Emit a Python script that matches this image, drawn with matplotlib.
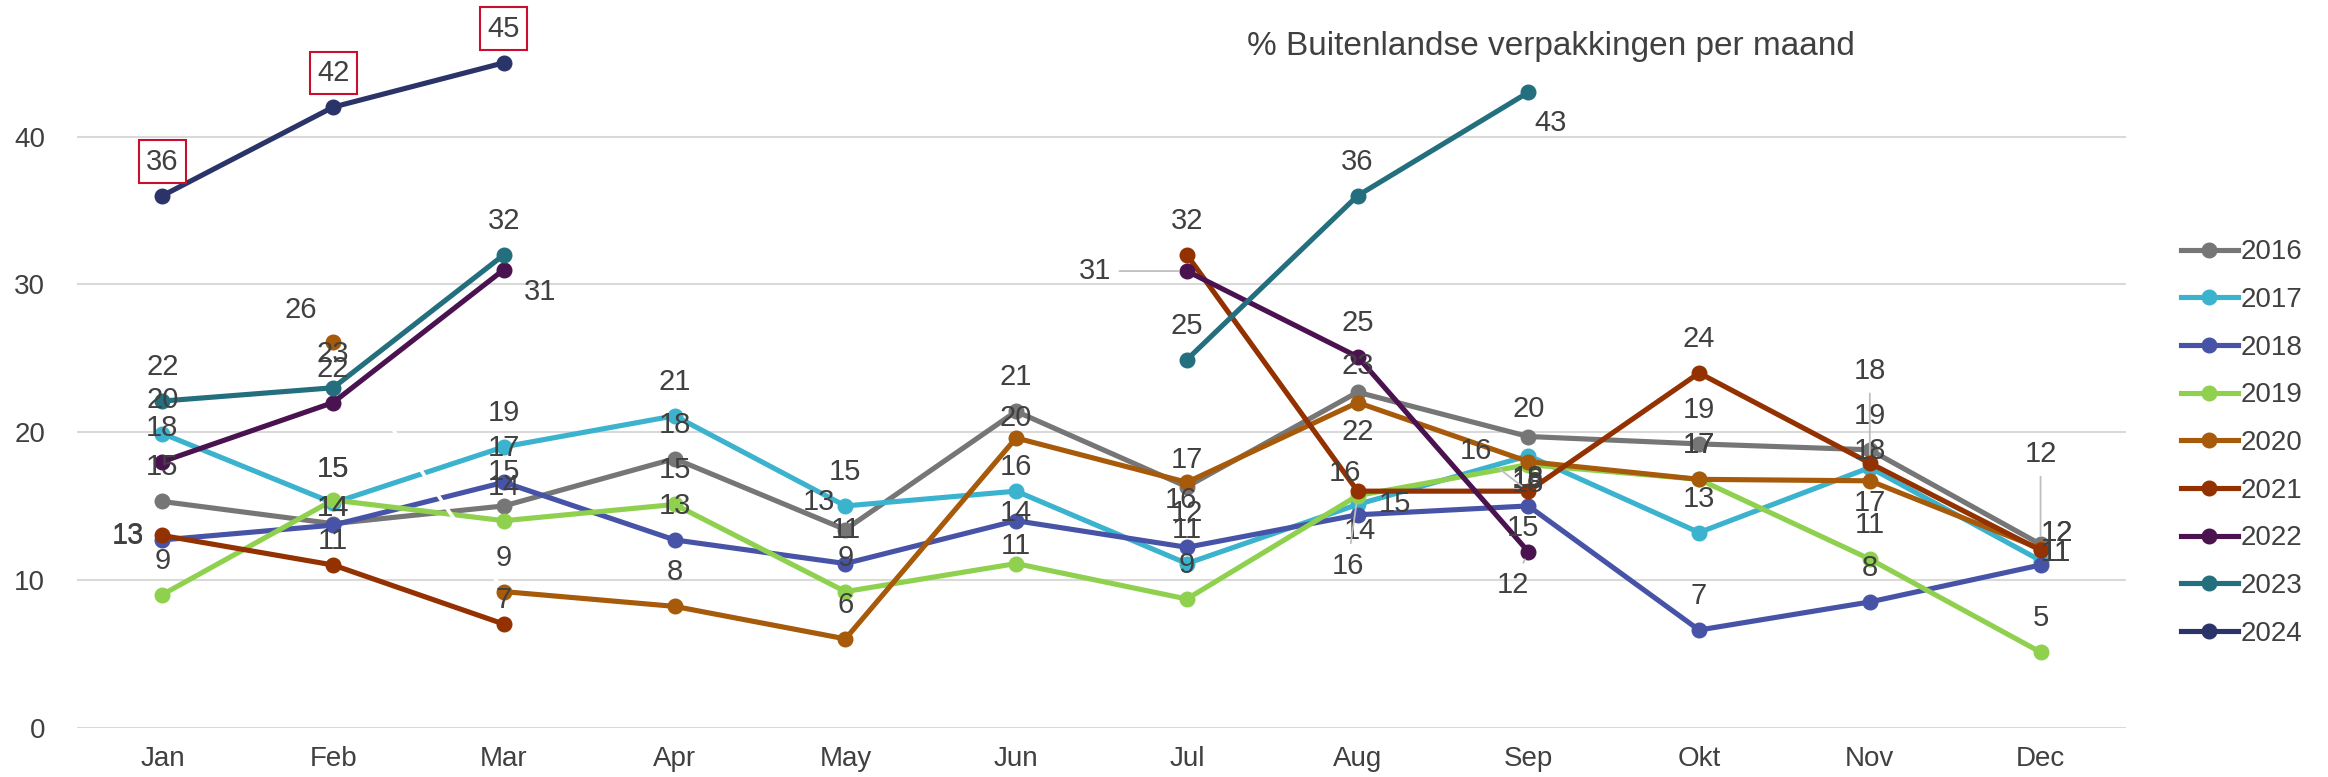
import numpy as np
import matplotlib
matplotlib.use('Agg')
import matplotlib.pyplot as plt
from matplotlib.lines import Line2D

plt.rcParams['font.family'] = ['Liberation Sans', 'DejaVu Sans']

nan = np.nan
months = ['Jan', 'Feb', 'Mar', 'Apr', 'May', 'Jun', 'Jul', 'Aug', 'Sep', 'Okt', 'Nov', 'Dec']
years = ['2016', '2017', '2018', '2019', '2020', '2021', '2022', '2023', '2024']

s2016 = [15.3, 13.8, 15.0, 18.2, 13.4, 21.4, 16.3, 22.7, 19.7, 19.2, 18.8, 12.4]
s2017 = [19.9, 15.2, 19.0, 21.1, 15.0, 16.0, 11.1, 15.1, 18.4, 13.2, 17.6, 11.3]
s2018 = [12.7, 13.7, 16.6, 12.7, 11.1, 14.0, 12.2, 14.4, 15.0, 6.6, 8.5, 11.0]
s2019 = [9.0, 15.4, 14.0, 15.1, 9.2, 11.1, 8.7, 15.7, 17.8, 16.8, 11.4, 5.1]
s2020 = [nan, 26.1, 9.2, 8.2, 6.0, 19.6, 16.6, 22.0, 18.0, 16.8, 16.7, 12.1]
s2021 = [13.0, 11.0, 7.0, nan, nan, nan, 32.0, 16.0, 16.0, 24.0, 17.9, 12.0]
s2022 = [18.0, 22.0, 31.0, nan, nan, nan, 30.9, 25.1, 11.9, nan, nan, nan]
s2023 = [22.1, 23.0, 32.0, nan, nan, nan, 24.9, 36.0, 43.0, nan, nan, nan]
s2024 = [36.0, 42.0, 45.0, nan, nan, nan, nan, nan, nan, nan, nan, nan]
series = [s2016, s2017, s2018, s2019, s2020, s2021, s2022, s2023, s2024]

colors = ['#767676', '#3CB3CE', '#4753A7', '#8FD14F', '#A65A0A',
          '#933200', '#4B1250', '#236F7E', '#2B3468']

# label offsets in pixels (default above the point)
offsets = {
    ('2016', 1): (0, 16), ('2018', 1): (0, 17), ('2021', 1): (0, 24), ('2019', 1): (0, 31),
    ('2021', 2): (0, 24), ('2021', 0): (-34, 0), ('2018', 0): (-34, 4),
    ('2020', 1): (-32, 32), ('2022', 2): (36, -22),
    ('2016', 4): (-26, 28),
    ('2020', 5): (0, 20), ('2017', 5): (0, 24), ('2018', 5): (0, 8), ('2019', 5): (0, 18),
    ('2022', 6): (-92, 0), ('2016', 6): (-6, -13), ('2020', 6): (0, 22),
    ('2020', 7): (0, -29), ('2016', 7): (0, 26), ('2021', 7): (-13, 18),
    ('2019', 7): (-10, -70), ('2017', 7): (37, 0), ('2018', 7): (2, -16),
    ('2016', 8): (0, 28), ('2021', 8): (-52, 40), ('2017', 8): (0, -28),
    ('2019', 8): (0, -13), ('2020', 8): (0, -18), ('2018', 8): (-5, -22),
    ('2022', 8): (-15, -33), ('2023', 8): (22, -31),
    ('2021', 10): (0, 92), ('2017', 10): (0, 17), ('2020', 10): (0, -22),
    ('2016', 11): (0, 90), ('2021', 11): (16, 17), ('2020', 11): (16, 16),
    ('2018', 11): (15, 12), ('2017', 11): (15, 8),
}
leaders = {('2022', 6), ('2019', 7), ('2021', 8), ('2022', 8), ('2021', 10), ('2016', 11)}

fig = plt.figure(figsize=(23.28, 7.77), dpi=100)
ax = fig.add_axes([0.0331, 0.0637, 0.8801, 0.9363])
x = np.arange(len(months))

lw = 3.7
ms = 10.5
handles = []
for yr, vals, c in zip(years, series, colors):
    v = np.array(vals, dtype=float)
    if yr == '2020':
        # Feb point stands alone, Feb-Mar segment is drawn in white
        ax.plot(x[1:3], v[1:3], color='white', lw=lw * 0.7, zorder=2)
        ax.plot(x[1:2], v[1:2], 'o', color=c, ms=ms, zorder=2)
        ax.plot(x[2:], v[2:], '-o', color=c, lw=lw, ms=ms, zorder=2)
    else:
        ax.plot(x, v, '-o', color=c, lw=lw, ms=ms, zorder=2)
    handles.append(Line2D([], [], color=c, lw=lw, marker='o', ms=ms))

    for i, val in enumerate(v):
        if np.isnan(val):
            continue
        dx, dy = offsets.get((yr, i), (0, 34))
        kw = dict(textcoords='offset pixels', ha='center', va='center',
                  fontsize=21, color='#404040', zorder=5)
        if yr == '2024':
            kw['bbox'] = dict(boxstyle='square,pad=0.25', fc='white', ec='#C8102E', lw=1.5)
        if (yr, i) in leaders:
            kw['arrowprops'] = dict(arrowstyle='-', color='#BFBFBF', lw=1.3,
                                    shrinkA=4, shrinkB=6)
        ax.annotate(f'{round(val):d}', (x[i], val), xytext=(dx, dy), **kw)

ax.set_xlim(-0.5, 11.5)
ax.set_ylim(0, 49.25)
ax.set_xticks(x)
ax.set_xticklabels(months)
ax.set_yticks([0, 10, 20, 30, 40])
ax.grid(axis='y', color='#D9D9D9', lw=1.5)
ax.set_axisbelow(True)
for sp in ax.spines.values():
    sp.set_visible(False)
ax.tick_params(length=0, labelsize=20, colors='#404040')
ax.tick_params(axis='x', pad=13)
ax.tick_params(axis='y', pad=23)

fig.text(0.666, 0.94, '% Buitenlandse verpakkingen per maand', ha='center', va='center',
         fontsize=24, color='#404040')

fig.legend(handles=handles, labels=years, loc='center left', bbox_to_anchor=(0.9367, 0.430),
           frameon=False, fontsize=20, labelcolor='#404040', handlelength=2.05,
           handletextpad=0.1, labelspacing=0.78, borderpad=0, borderaxespad=0)

fig.savefig('out.png', dpi=100)
